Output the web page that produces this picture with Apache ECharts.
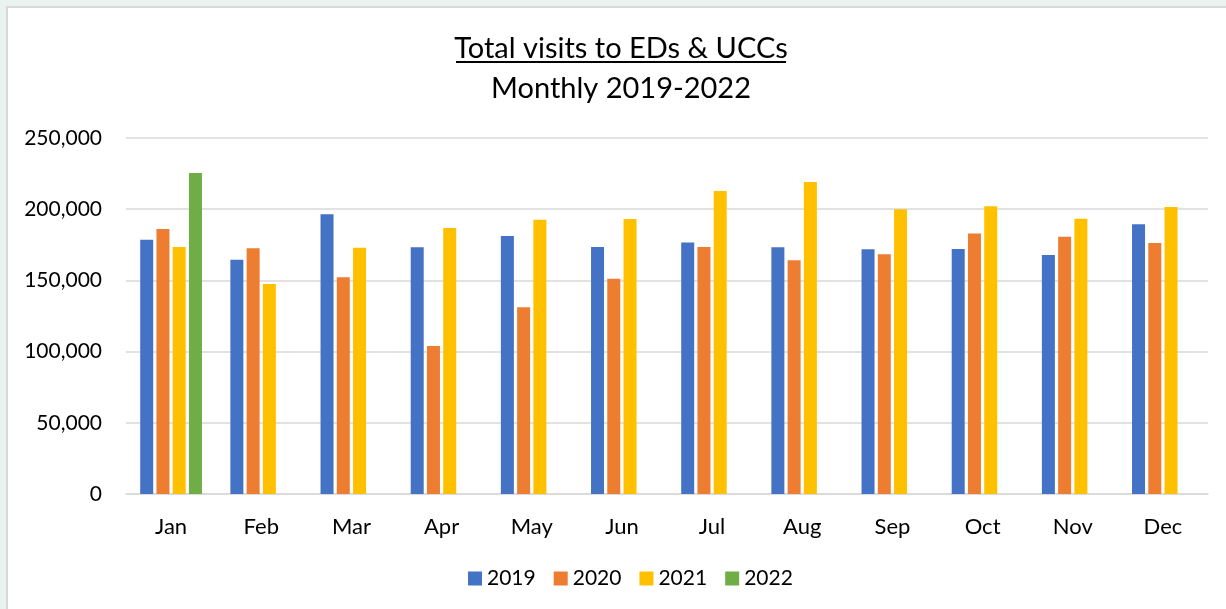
<!DOCTYPE html>
<html>
<head>
<meta charset="utf-8">
<script src="https://cdn.jsdelivr.net/npm/echarts@6/dist/echarts.min.js"></script>
<style>
html,body{margin:0;padding:0;background:#fff;}
#chart{width:1226px;height:609px;}
</style>
</head>
<body>
<div id="chart"></div>
<script>
const categories = ['Jan','Feb','Mar','Apr','May','Jun','Jul','Aug','Sep','Oct','Nov','Dec'];
const yearNames = ['2019','2020','2021','2022'];
const v2019 = [178500,164500,196400,173200,181200,173400,176700,173200,171800,172000,167800,189400];
const v2020 = [186100,172500,152200,103900,131100,151200,173400,164100,168300,183000,180700,176300];
const v2021 = [173400,147500,173000,186800,192600,193100,212800,219100,199900,202000,193300,201500];
const v2022 = [225400,null,null,null,null,null,null,null,null,null,null,null];
const yTicks = [0,50000,100000,150000,200000,250000];

const colors = ['#4472C4','#ED7D31','#FFC000','#70AD47'];
const FONT = 'Lato, "Open Sans", sans-serif';
const seriesValues = [v2019, v2020, v2021, v2022];

const chart = echarts.init(document.getElementById('chart'));
chart.setOption({
  backgroundColor: '#ffffff',
  animation: false,
  color: colors,
  title: {
    text: 'Total visits to EDs & UCCs',
    subtext: 'Monthly 2019-2022',
    left: 616,
    textAlign: 'center',
    top: 29,
    itemGap: 11,
    textStyle: {fontFamily: FONT, fontSize: 29, fontWeight: 'normal', color: '#000'},
    subtextStyle: {fontFamily: FONT, fontSize: 29, color: '#000'}
  },
  graphic: [
    {type: 'rect', shape: {x: 0, y: 0, width: 1226, height: 6}, style: {fill: '#EAF3F0'}, z: 0},
    {type: 'rect', shape: {x: 0, y: 0, width: 6, height: 609}, style: {fill: '#EAF3F0'}, z: 0},
    {type: 'rect', shape: {x: 6, y: 6, width: 1220, height: 2}, style: {fill: '#D9D9D9'}, z: 0},
    {type: 'rect', shape: {x: 6, y: 6, width: 2, height: 603}, style: {fill: '#D9D9D9'}, z: 0},
    {type: 'line', shape: {x1: 456, y1: 62, x2: 786, y2: 62}, style: {stroke: '#000', lineWidth: 2}, z: 10}
  ],
  legend: {
    data: yearNames,
    bottom: 15,
    left: 463,
    itemWidth: 14,
    itemHeight: 14,
    itemGap: 18,
    icon: 'rect',
    textStyle: {fontFamily: FONT, fontSize: 21, color: '#000'}
  },
  grid: {left: 126, right: 18, top: 138, bottom: 115, containLabel: false},
  xAxis: {
    type: 'category',
    data: categories,
    axisTick: {show: false},
    axisLine: {lineStyle: {color: '#D9D9D9', width: 1.5}},
    axisLabel: {fontFamily: FONT, fontSize: 22, color: '#000', margin: 22}
  },
  yAxis: {
    type: 'value',
    min: yTicks[0],
    max: yTicks[yTicks.length - 1],
    interval: yTicks[1] - yTicks[0],
    axisLine: {show: false},
    axisTick: {show: false},
    splitLine: {lineStyle: {color: '#D9D9D9', width: 1.5}},
    axisLabel: {
      fontFamily: FONT, fontSize: 21, color: '#000', margin: 24,
      formatter: v => v.toLocaleString('en-US')
    }
  },
  series: yearNames.map((name, i) => ({
    name: name,
    type: 'bar',
    data: seriesValues[i],
    barWidth: 13,
    barGap: '25%',
    itemStyle: {color: colors[i]}
  }))
});
</script>
</body>
</html>
